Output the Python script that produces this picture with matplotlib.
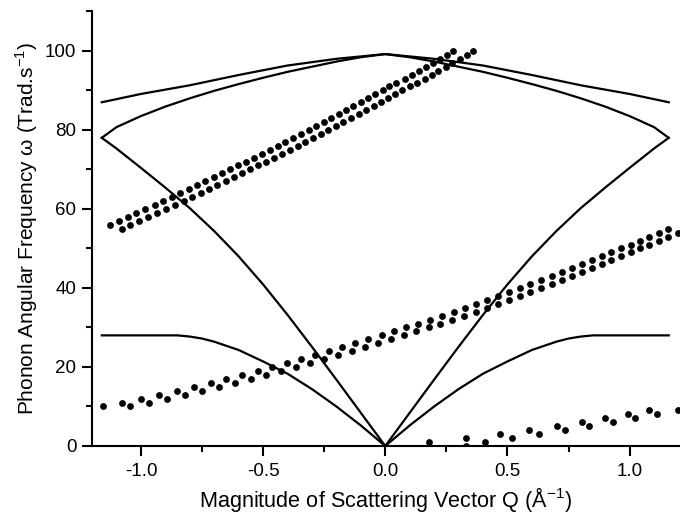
import numpy as np
import matplotlib
matplotlib.use("Agg")
import matplotlib.pyplot as plt
from matplotlib.ticker import MultipleLocator, FixedLocator, FixedFormatter

plt.rcParams['font.family'] = ['Liberation Sans', 'DejaVu Sans']
plt.rcParams['axes.unicode_minus'] = False

# ---- dispersion curves (half branch, mirrored about Q=0) ----
q_top = [0.0, 0.2, 0.4, 0.6, 0.8, 1.0, 1.16]
w_top = [99.2, 98.0, 96.3, 93.9, 91.3, 89.1, 87.0]

q_opt2 = [0.0, 0.1, 0.2, 0.3, 0.4, 0.5, 0.6, 0.7, 0.8, 0.9, 1.0, 1.1, 1.16]
w_opt2 = [99.2, 98.4, 97.3, 96.0, 94.7, 93.2, 91.6, 89.9, 88.0, 85.9, 83.5, 80.7, 78.0]

q_ac1 = [0.0, 0.1, 0.2, 0.3, 0.4, 0.5, 0.6, 0.7, 0.8, 0.9, 1.0, 1.1, 1.16]
w_ac1 = [0.0, 8.4, 16.8, 25.1, 33.2, 40.9, 48.0, 54.4, 60.2, 65.4, 70.4, 75.3, 78.0]

q_ac2 = [0.0, 0.1, 0.2, 0.3, 0.4, 0.5, 0.6, 0.7, 0.75, 0.8, 0.85, 0.9, 1.16]
w_ac2 = [0.0, 5.2, 10.0, 14.4, 18.3, 21.4, 24.3, 26.4, 27.2, 27.7, 28.0, 28.0, 28.0]

# ---- measured points ----
hi_a_q = [-1.127, -1.089, -1.053, -1.018, -0.982, -0.944, -0.909, -0.873, -0.840, -0.805,
          -0.772, -0.736, -0.702, -0.669, -0.635, -0.602, -0.570, -0.537, -0.504, -0.471,
          -0.439, -0.409, -0.376, -0.346, -0.314, -0.283, -0.250, -0.220, -0.190, -0.160,
          -0.130, -0.100, -0.070, -0.041, -0.010, 0.015, 0.045, 0.079, 0.109, 0.138,
          0.168, 0.195, 0.223, 0.253, 0.277]
hi_a_w = [56, 57, 58, 59, 60, 61, 62, 63, 64, 65, 66, 67, 68, 69, 70, 71, 72, 73, 74, 75,
          76, 77, 78, 79, 80, 81, 82, 83, 84, 85, 86, 87, 88, 89, 90, 91, 92, 93, 94, 95,
          96, 97, 98, 99, 100]
hi_b_q = [-1.079, -1.044, -1.007, -0.969, -0.932, -0.896, -0.859, -0.825, -0.791, -0.756,
          -0.723, -0.687, -0.652, -0.619, -0.586, -0.553, -0.520, -0.488, -0.455, -0.422,
          -0.389, -0.358, -0.327, -0.294, -0.264, -0.234, -0.201, -0.171, -0.139, -0.109,
          -0.078, -0.048, -0.016, 0.011, 0.038, 0.070, 0.100, 0.130, 0.161, 0.191,
          0.217, 0.247, 0.275, 0.305, 0.335, 0.359]
hi_b_w = [55, 56, 57, 58, 59, 60, 61, 62, 63, 64, 65, 66, 67, 68, 69, 70, 71, 72, 73, 74,
          75, 76, 77, 78, 79, 80, 81, 82, 83, 84, 85, 86, 87, 88, 89, 90, 91, 92, 93, 94,
          95, 96, 97, 98, 99, 100]

mid_a_q = [-1.157, -1.078, -1.000, -0.925, -0.853, -0.784, -0.715, -0.650, -0.586, -0.522,
           -0.463, -0.402, -0.344, -0.286, -0.232, -0.176, -0.122, -0.070, -0.015, 0.034,
           0.086, 0.135, 0.184, 0.231, 0.280, 0.326, 0.373, 0.417, 0.462, 0.507,
           0.550, 0.594, 0.638, 0.682, 0.723, 0.764, 0.805, 0.846, 0.885, 0.925,
           0.963, 1.004, 1.042, 1.080, 1.119, 1.157]
mid_a_w = [10, 11, 12, 13, 14, 15, 16, 17, 18, 19, 20, 21, 22, 23, 24, 25, 26, 27, 28, 29,
           30, 31, 32, 33, 34, 35, 36, 37, 38, 39, 40, 41, 42, 43, 44, 45, 46, 47, 48, 49,
           50, 51, 52, 53, 54, 55]
mid_b_q = [-1.045, -0.967, -0.892, -0.820, -0.750, -0.680, -0.615, -0.549, -0.488, -0.425,
           -0.365, -0.307, -0.249, -0.193, -0.137, -0.084, -0.029, 0.025, 0.076, 0.127,
           0.177, 0.225, 0.273, 0.321, 0.370, 0.417, 0.462, 0.507, 0.550, 0.594,
           0.638, 0.682, 0.723, 0.764, 0.805, 0.846, 0.885, 0.925, 0.963, 1.004,
           1.042, 1.080, 1.119, 1.157, 1.198]
mid_b_w = [10, 11, 12, 13, 14, 15, 16, 17, 18, 19, 20, 21, 22, 23, 24, 25, 26, 27, 28, 29,
           30, 31, 32, 33, 34, 35, 36, 37, 38, 39, 40, 41, 42, 43, 44, 45, 46, 47, 48, 49,
           50, 51, 52, 53, 54]

lo_a_q = [0.180, 0.332, 0.468, 0.589, 0.701, 0.804, 0.901, 0.994, 1.081]
lo_a_w = [1, 2, 3, 4, 5, 6, 7, 8, 9]
lo_b_q = [0.332, 0.410, 0.518, 0.628, 0.735, 0.835, 0.933, 1.023, 1.111, 1.196]
lo_b_w = [0, 1, 2, 3, 4, 5, 6, 7, 8, 9]

x_ticks = [-1.0, -0.5, 0.0, 0.5, 1.0]
x_labels = ['-1.0', '-0.5', '0.0', '0.5', '1.0']
y_ticks = [0, 20, 40, 60, 80, 100]
y_labels = ['0', '20', '40', '60', '80', '100']


def mirror(q, w):
    q = np.asarray(q, float)
    w = np.asarray(w, float)
    return np.concatenate([-q[::-1], q[1:]]), np.concatenate([w[::-1], w[1:]])


fig = plt.figure(figsize=(6.8, 5.18), dpi=100)
ax = fig.add_axes([0.1353, 0.139, 0.8625, 0.839])

for q, w in [(q_top, w_top), (q_opt2, w_opt2), (q_ac1, w_ac1), (q_ac2, w_ac2)]:
    xx, yy = mirror(q, w)
    ax.plot(xx, yy, color='black', lw=1.6, solid_joinstyle='miter')

for q, w in [(hi_a_q, hi_a_w), (hi_b_q, hi_b_w), (mid_a_q, mid_a_w),
             (mid_b_q, mid_b_w), (lo_a_q, lo_a_w), (lo_b_q, lo_b_w)]:
    ax.plot(q, w, linestyle='none', marker='o', ms=4.9, color='black', mew=0)

ax.set_xlim(-1.2, 1.2)
ax.set_ylim(0, 110)

for s in ['top', 'right']:
    ax.spines[s].set_visible(False)
for s in ['left', 'bottom']:
    ax.spines[s].set_linewidth(1.5)

ax.xaxis.set_major_locator(FixedLocator(x_ticks))
ax.xaxis.set_major_formatter(FixedFormatter(x_labels))
ax.yaxis.set_major_locator(FixedLocator(y_ticks))
ax.yaxis.set_major_formatter(FixedFormatter(y_labels))
ax.xaxis.set_minor_locator(MultipleLocator(0.25))
ax.yaxis.set_minor_locator(MultipleLocator(10))

ax.tick_params(which='major', direction='out', length=7.2, width=1.5, labelsize=13.5)
ax.tick_params(axis='x', which='major', pad=5)
ax.tick_params(axis='y', which='major', pad=4)
ax.tick_params(which='minor', direction='out', length=4, width=1.5)

ax.set_xlabel('Magnitude of Scattering Vector Q (Å$^{\\mathregular{-1}}$)', fontsize=15.6, labelpad=4)
ax.set_ylabel('Phonon Angular Frequency ω (Trad.s$^{\\mathregular{-1}}$)', fontsize=15, labelpad=4)

fig.savefig('out.png', dpi=100)
